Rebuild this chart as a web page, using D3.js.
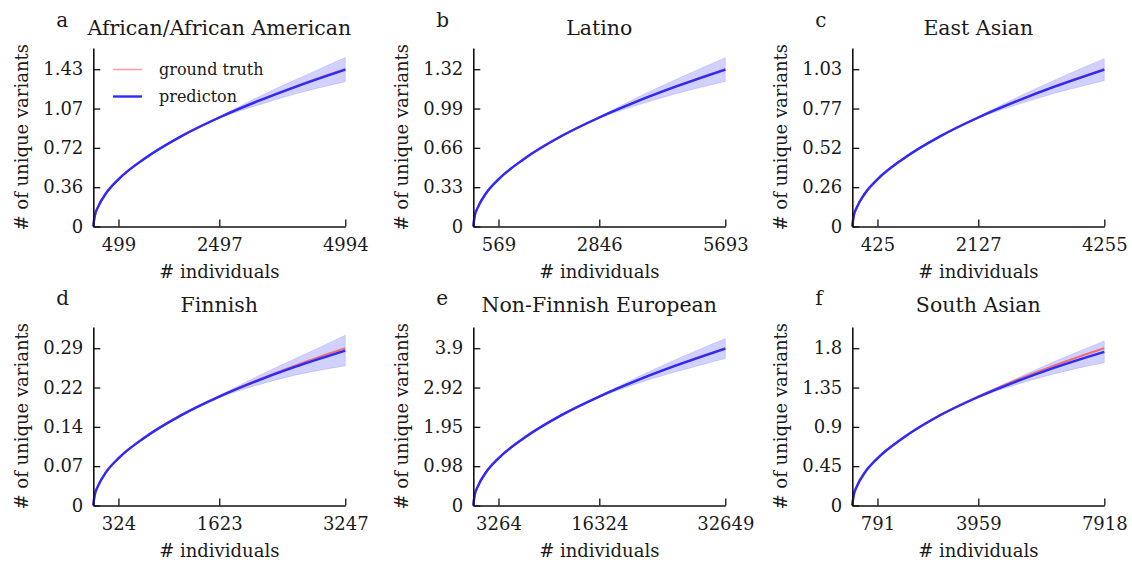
<!DOCTYPE html>
<html>
<head>
<meta charset="utf-8">
<script src="https://cdn.jsdelivr.net/npm/d3@7"></script>
<style>
  body { margin: 0; background: #fff; }
  text { font-family: "DejaVu Serif", serif; fill: #1a1a1a; }
</style>
</head>
<body>
<div id="chart"></div>
<script>
// panel meta
const letters = ["a", "b", "c", "d", "e", "f"];
const titles = ["African/African American", "Latino", "East Asian", "Finnish", "Non-Finnish European", "South Asian"];

// x ticks (# individuals)
const xTicksA = [499, 2497, 4994];
const xTicksB = [569, 2846, 5693];
const xTicksC = [425, 2127, 4255];
const xTicksD = [324, 1623, 3247];
const xTicksE = [3264, 16324, 32649];
const xTicksF = [791, 3959, 7918];

// y ticks and their printed labels
const yTicksA = [0, 0.3575, 0.715, 1.0725, 1.43];
const yTicksB = [0, 0.33, 0.66, 0.99, 1.32];
const yTicksC = [0, 0.2575, 0.515, 0.7725, 1.03];
const yTicksD = [0, 0.0718, 0.1435, 0.2153, 0.287];
const yTicksE = [0, 0.9745, 1.949, 2.9235, 3.898];
const yTicksF = [0, 0.45, 0.9, 1.35, 1.8];
const yLabelsA = ["0", "0.36", "0.72", "1.07", "1.43"];
const yLabelsB = ["0", "0.33", "0.66", "0.99", "1.32"];
const yLabelsC = ["0", "0.26", "0.52", "0.77", "1.03"];
const yLabelsD = ["0", "0.07", "0.14", "0.22", "0.29"];
const yLabelsE = ["0", "0.98", "1.95", "2.92", "3.9"];
const yLabelsF = ["0", "0.45", "0.9", "1.35", "1.8"];

// sample sizes along each curve
const sizesA = [0, 25, 100, 250, 499, 999, 1748, 2497, 3246, 3995, 4495, 4994];
const sizesB = [0, 28, 114, 285, 569, 1139, 1993, 2846, 3700, 4554, 5124, 5693];
const sizesC = [0, 21, 85, 213, 425, 851, 1489, 2127, 2766, 3404, 3830, 4255];
const sizesD = [0, 16, 65, 162, 324, 649, 1136, 1623, 2111, 2598, 2922, 3247];
const sizesE = [0, 163, 653, 1632, 3264, 6530, 11427, 16324, 21222, 26119, 29384, 32649];
const sizesF = [0, 40, 158, 396, 791, 1584, 2771, 3959, 5147, 6334, 7126, 7918];

// ground truth
const truthA = [0, 0.089, 0.183, 0.300, 0.429, 0.612, 0.822, 0.991, 1.138, 1.271, 1.353, 1.43];
const truthB = [0, 0.082, 0.169, 0.277, 0.396, 0.565, 0.759, 0.915, 1.051, 1.173, 1.249, 1.32];
const truthC = [0, 0.064, 0.132, 0.216, 0.309, 0.441, 0.592, 0.714, 0.820, 0.916, 0.974, 1.03];
const truthD = [0, 0.0178, 0.0367, 0.0603, 0.0861, 0.1228, 0.165, 0.1989, 0.2285, 0.2551, 0.2715, 0.287];
const truthE = [0, 0.242, 0.499, 0.818, 1.169, 1.668, 2.241, 2.701, 3.103, 3.465, 3.687, 3.898];
const truthF = [0, 0.112, 0.230, 0.378, 0.540, 0.770, 1.035, 1.247, 1.433, 1.600, 1.703, 1.8];

// prediction
const predA = [0, 0.089, 0.183, 0.300, 0.429, 0.612, 0.822, 0.991, 1.137, 1.268, 1.349, 1.427];
const predB = [0, 0.082, 0.169, 0.277, 0.396, 0.565, 0.759, 0.915, 1.050, 1.171, 1.246, 1.317];
const predC = [0, 0.064, 0.132, 0.216, 0.309, 0.441, 0.592, 0.714, 0.819, 0.914, 0.972, 1.027];
const predD = [0, 0.0178, 0.0367, 0.0603, 0.0861, 0.1228, 0.165, 0.1987, 0.2275, 0.2528, 0.268, 0.2828];
const predE = [0, 0.242, 0.499, 0.818, 1.169, 1.668, 2.241, 2.700, 3.100, 3.458, 3.679, 3.888];
const predF = [0, 0.112, 0.230, 0.378, 0.540, 0.770, 1.035, 1.242, 1.418, 1.575, 1.670, 1.758];

// confidence band
const lowA = [0, 0.089, 0.183, 0.300, 0.429, 0.612, 0.822, 0.984, 1.101, 1.204, 1.263, 1.317];
const highA = [0, 0.089, 0.183, 0.300, 0.429, 0.612, 0.822, 0.998, 1.173, 1.332, 1.435, 1.537];
const lowB = [0, 0.082, 0.169, 0.277, 0.396, 0.565, 0.759, 0.908, 1.017, 1.112, 1.167, 1.217];
const highB = [0, 0.082, 0.169, 0.277, 0.396, 0.565, 0.759, 0.922, 1.083, 1.230, 1.325, 1.417];
const lowC = [0, 0.064, 0.132, 0.216, 0.309, 0.441, 0.592, 0.709, 0.795, 0.871, 0.914, 0.955];
const highC = [0, 0.064, 0.132, 0.216, 0.309, 0.441, 0.592, 0.719, 0.843, 0.957, 1.030, 1.099];
const lowD = [0, 0.0178, 0.0367, 0.0603, 0.0861, 0.1228, 0.1645, 0.1967, 0.2195, 0.2378, 0.247, 0.2548];
const highD = [0, 0.0178, 0.0367, 0.0603, 0.0861, 0.1228, 0.1655, 0.2007, 0.2355, 0.2678, 0.289, 0.3108];
const lowE = [0, 0.242, 0.499, 0.818, 1.169, 1.668, 2.241, 2.680, 3.020, 3.308, 3.479, 3.643];
const highE = [0, 0.242, 0.499, 0.818, 1.169, 1.668, 2.241, 2.720, 3.180, 3.608, 3.879, 4.133];
const lowF = [0, 0.112, 0.230, 0.378, 0.540, 0.770, 1.035, 1.234, 1.383, 1.505, 1.575, 1.633];
const highF = [0, 0.112, 0.230, 0.378, 0.540, 0.770, 1.035, 1.250, 1.453, 1.645, 1.765, 1.883];

const panels = [
  { xTicks: xTicksA, yTicks: yTicksA, yLabels: yLabelsA, sizes: sizesA, truth: truthA, pred: predA, low: lowA, high: highA },
  { xTicks: xTicksB, yTicks: yTicksB, yLabels: yLabelsB, sizes: sizesB, truth: truthB, pred: predB, low: lowB, high: highB },
  { xTicks: xTicksC, yTicks: yTicksC, yLabels: yLabelsC, sizes: sizesC, truth: truthC, pred: predC, low: lowC, high: highC },
  { xTicks: xTicksD, yTicks: yTicksD, yLabels: yLabelsD, sizes: sizesD, truth: truthD, pred: predD, low: lowD, high: highD },
  { xTicks: xTicksE, yTicks: yTicksE, yLabels: yLabelsE, sizes: sizesE, truth: truthE, pred: predE, low: lowE, high: highE },
  { xTicks: xTicksF, yTicks: yTicksF, yLabels: yLabelsF, sizes: sizesF, truth: truthF, pred: predF, low: lowF, high: highF }
];

const width = 1132, height = 565;
const plotW = 252, plotH = 178.5;
const colLeft = [93.3, 473.3, 852.3];
const rowBottom = [226.5, 505.5];
const titleBase = [35, 312];
const letterBase = [27, 305];

const svg = d3.select("#chart").append("svg")
  .attr("width", width)
  .attr("height", height);

function drawPanel(p, i) {
  const col = i % 3, row = Math.floor(i / 3);
  const left = colLeft[col], bottom = rowBottom[row];
  const g = svg.append("g").attr("transform", `translate(${left},${bottom - plotH})`);

  const xMax = p.xTicks[p.xTicks.length - 1];
  const yTop = p.yTicks[p.yTicks.length - 1];
  const x = d3.scaleLinear().domain([0, xMax]).range([0, plotW]);
  const y = d3.scaleLinear().domain([0, yTop * 1.135]).range([plotH, 0]);

  const rows = p.sizes.map((s, k) => ({ s, t: p.truth[k], p: p.pred[k], lo: p.low[k], hi: p.high[k] }));

  // band
  g.append("path")
    .datum(rows)
    .attr("d", d3.area().x(d => x(d.s)).y0(d => y(d.lo)).y1(d => y(d.hi)).curve(d3.curveMonotoneX))
    .attr("fill", "#0000ff")
    .attr("fill-opacity", 0.18)
    .attr("stroke", "#0000ff")
    .attr("stroke-opacity", 0.12)
    .attr("stroke-width", 1);

  g.append("path")
    .datum(rows)
    .attr("d", d3.line().x(d => x(d.s)).y(d => y(d.t)).curve(d3.curveMonotoneX))
    .attr("fill", "none")
    .attr("stroke", "#f26d6d")
    .attr("stroke-width", 2.2);

  g.append("path")
    .datum(rows)
    .attr("d", d3.line().x(d => x(d.s)).y(d => y(d.p)).curve(d3.curveMonotoneX))
    .attr("fill", "none")
    .attr("stroke", "#2b2bff")
    .attr("stroke-width", 2.4);

  // axes, ticks pointing inward
  const xAxis = g.append("g")
    .attr("transform", `translate(0,${plotH})`)
    .call(d3.axisBottom(x).tickValues(p.xTicks).tickFormat(d3.format("d"))
      .tickSizeInner(-7).tickSizeOuter(0).tickPadding(12));
  const yAxis = g.append("g")
    .call(d3.axisLeft(y).tickValues(p.yTicks).tickFormat((d, k) => p.yLabels[k])
      .tickSizeInner(-7).tickSizeOuter(0).tickPadding(10));

  [xAxis, yAxis].forEach(a => {
    a.attr("font-family", null);
    a.select(".domain").attr("stroke", "#111").attr("stroke-width", 1.6);
    a.selectAll(".tick line").attr("stroke", "#111").attr("stroke-width", 1.3);
    a.selectAll(".tick text").style("font-size", "18px").attr("fill", "#1a1a1a");
  });

  // labels
  g.append("text")
    .attr("x", plotW / 2)
    .attr("y", plotH + 51)
    .attr("text-anchor", "middle")
    .style("font-size", "18px")
    .text("# individuals");

  g.append("text")
    .attr("transform", "rotate(-90)")
    .attr("x", -plotH / 2)
    .attr("y", -65)
    .attr("text-anchor", "middle")
    .style("font-size", "18px")
    .text("# of unique variants");

  svg.append("text")
    .attr("x", left + plotW / 2)
    .attr("y", titleBase[row])
    .attr("text-anchor", "middle")
    .style("font-size", "20.5px")
    .text(titles[i]);

  svg.append("text")
    .attr("x", left - 37)
    .attr("y", letterBase[row])
    .style("font-size", "20px")
    .text(letters[i]);
}

panels.forEach(drawPanel);

// legend in panel a
const legend = svg.append("g");
const legendItems = [
  { label: "ground truth", color: "#f7a0a0", w: 1.6, y: 69.5 },
  { label: "predicton", color: "#2b2bff", w: 2.4, y: 96.5 }
];
legendItems.forEach(d => {
  legend.append("line")
    .attr("x1", 113).attr("x2", 142)
    .attr("y1", d.y).attr("y2", d.y)
    .attr("stroke", d.color)
    .attr("stroke-width", d.w);
  legend.append("text")
    .attr("x", 159)
    .attr("y", d.y + 5)
    .style("font-size", "16px")
    .text(d.label);
});
</script>
</body>
</html>
